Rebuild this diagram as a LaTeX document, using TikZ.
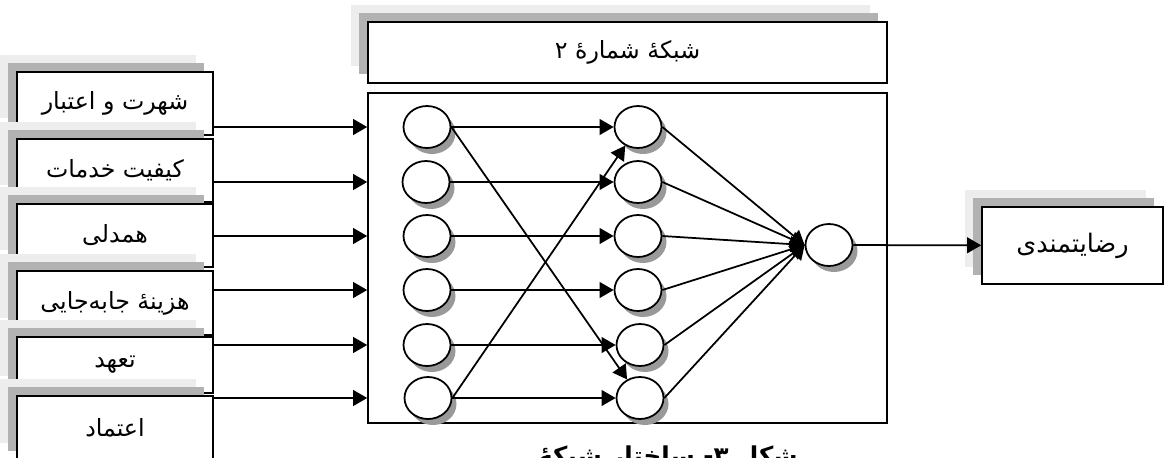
\documentclass[tikz,border=0pt]{standalone}
\usepackage{fontspec}
\newfontfamily\persianfont[Script=Arabic]{DejaVu Sans}
\TeXXeTstate=1
\usetikzlibrary{shapes.geometric,shadows,arrows.meta}
\newcommand{\fatext}[1]{\persianfont\beginR #1\endR}

\begin{document}
\begin{tikzpicture}
[x=0.02cm, y=-0.02cm, line width=1pt, >={Triangle[length=8pt,width=9pt]},
crit/.style={rectangle, draw, fill=white, inner sep=0pt, minimum width=3.92cm, minimum height=1.27cm,
  font=\fontsize{13.5}{16}\selectfont,
  general shadow={fill=black!7, shadow xshift=-0.34cm, shadow yshift=0.34cm},
  general shadow={fill=black!30, shadow xshift=-0.18cm, shadow yshift=0.18cm}},
ttl/.style={crit, minimum width=10.38cm, minimum height=1.22cm},
res/.style={crit, minimum width=3.62cm, minimum height=1.54cm, font=\fontsize{14.5}{17}\selectfont},
frame/.style={rectangle, draw, inner sep=0pt, minimum width=10.38cm, minimum height=6.6cm},
neuron/.style={ellipse, draw, fill=white, inner sep=0pt, minimum width=0.94cm, minimum height=0.84cm,
  general shadow={fill=black!40, shadow xshift=0.1cm, shadow yshift=-0.12cm}}
]
\useasboundingbox (0,0) rectangle (1166,457);

\node[frame] (net) at (627.5,258) {};
\node[ttl] (title) at (627.5,52.5) {\fatext{شبکهٔ شمارهٔ ۲}};

\node[crit] (k1) at (115,103.5) {\fatext{شهرت و اعتبار}};
\node[crit] (k2) at (115,170.5) {\fatext{کیفیت خدمات}};
\node[crit] (k3) at (115,235.5) {\fatext{همدلی}};
\node[crit] (k4) at (115,303) {\fatext{هزینهٔ جابه‌جایی}};
\node[crit, minimum height=1.12cm] (k5) at (115,365) {\fatext{تعهد}};
\node[crit] (k6) at (115,428) {\fatext{اعتماد}};

\node[neuron] (i1) at (427,127) {};
\node[neuron] (i2) at (426,182) {};
\node[neuron] (i3) at (427,236) {};
\node[neuron] (i4) at (427,290) {};
\node[neuron] (i5) at (427,345) {};
\node[neuron] (i6) at (428,398) {};

\node[neuron] (h1) at (638,127) {};
\node[neuron] (h2) at (638,182) {};
\node[neuron] (h3) at (638,236) {};
\node[neuron] (h4) at (638,290) {};
\node[neuron] (h5) at (640,345) {};
\node[neuron] (h6) at (640,398) {};

\node[neuron] (o) at (829,245) {};
\node[res] (out) at (1072.5,245.5) {\fatext{رضایتمندی}};

\node[font=\bfseries\fontsize{14}{16}\selectfont] (cap) at (668,458) {\fatext{شکل ۳- ساختار شبکهٔ}};

\draw[->] (k1.east |- i1) -- (net.west |- i1);
\draw[->] (k2.east |- i2) -- (net.west |- i2);
\draw[->] (k3.east |- i3) -- (net.west |- i3);
\draw[->] (k4.east |- i4) -- (net.west |- i4);
\draw[->] (k5.east |- i5) -- (net.west |- i5);
\draw[->] (k6.east |- i6) -- (net.west |- i6);

\draw[->] (i1) -- (h1);
\draw[->] (i2) -- (h2);
\draw[->] (i3) -- (h3);
\draw[->] (i4) -- (h4);
\draw[->] (i5) -- (h5);
\draw[->] (i6) -- (h6);
\draw[->] (i1.east) -- (h6);
\draw[->] (i6.east) -- (h1);

\draw[->] (h1.east) -- (o.west);
\draw[->] (h2.east) -- (o.west);
\draw[->] (h3.east) -- (o.west);
\draw[->] (h4.east) -- (o.west);
\draw[->] (h5.east) -- (o.west);
\draw[->] (h6.east) -- (o.west);

\draw[->] (o) -- (out);
\end{tikzpicture}
\end{document}
